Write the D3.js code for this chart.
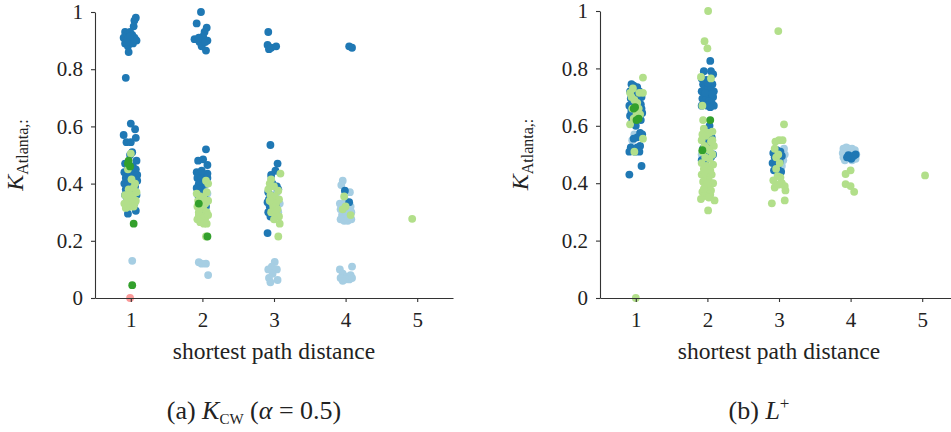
<!DOCTYPE html>
<html><head><meta charset="utf-8">
<script src="https://cdn.jsdelivr.net/npm/d3@7"></script>
<style>
body{margin:0;background:#fff;}
</style></head>
<body><svg id="c" width="951" height="432"></svg>
<script>
// ---- data ----
const distances = [1, 2, 3, 4, 5];
const yTicks = [0, 0.2, 0.4, 0.6, 0.8, 1];
const yTickLabels = ["0", "0.2", "0.4", "0.6", "0.8", "1"];
const xLabel = "shortest path distance";

// Panel (a) K_cw: [jittered distance, value]
const kcwLightBlue = [[1.02,0.13],[1.07,0.365],[0.99,0.42],
 [1.95,0.125],[1.99,0.12],[2.05,0.12],[2.08,0.08],[2.05,0.345],[2.07,0.365],[2.02,0.38],
 [2.96,0.42],[3.04,0.37],[3.08,0.33],[3.06,0.30],[2.93,0.345],[3.01,0.126],[2.97,0.11],[2.92,0.10],[3.04,0.10],[2.93,0.07],[2.95,0.055],[3.05,0.063],[2.98,0.085],
 [3.96,0.41],[3.94,0.395],[4.06,0.37],[3.92,0.33],[3.97,0.32],[4.02,0.33],[4.07,0.32],[3.93,0.31],[3.99,0.30],[4.04,0.305],[4.08,0.30],[3.95,0.29],[4.01,0.285],[4.06,0.285],[3.93,0.275],[3.98,0.27],[4.03,0.27],[4.08,0.275],[4.00,0.34],
 [3.92,0.10],[4.09,0.11],[3.96,0.085],[4.02,0.075],[4.07,0.08],[3.93,0.07],[3.99,0.065],[4.05,0.065],[4.09,0.07],[3.96,0.06]];
const kcwDarkBlue = [[1.07,0.98],[1.05,0.97],[1.04,0.95],[0.92,0.93],[0.95,0.92],[0.99,0.93],[1.02,0.92],[0.90,0.91],[0.93,0.90],[0.97,0.91],[1.00,0.90],[1.05,0.91],[1.08,0.90],[0.92,0.89],[0.96,0.88],[1.03,0.89],[1.06,0.905],[0.97,0.86],[0.99,0.915],[0.94,0.895],[0.93,0.77],
 [1.00,0.61],[1.06,0.59],[0.90,0.57],[1.07,0.56],[0.94,0.545],[1.00,0.545],[1.02,0.51],[0.99,0.50],[1.08,0.48],[0.92,0.47],[0.96,0.46],[1.03,0.46],[1.07,0.45],[0.91,0.44],[0.95,0.44],[1.00,0.435],[1.05,0.43],[1.09,0.43],[0.93,0.42],[0.98,0.42],[1.04,0.41],[0.91,0.40],[0.96,0.40],[1.01,0.395],[1.06,0.39],[0.93,0.38],[0.99,0.375],[1.04,0.37],[0.92,0.36],[0.97,0.355],[1.02,0.35],[1.08,0.36],[0.95,0.34],[1.05,0.33],[1.09,0.41],[0.94,0.37],[1.07,0.305],[0.96,0.295],[0.99,0.44],[1.02,0.42],
 [1.98,1.0],[1.92,0.96],[2.06,0.945],[2.03,0.93],[2.01,0.915],[1.89,0.905],[2.07,0.90],[1.96,0.895],[1.99,0.88],[2.05,0.865],[1.95,0.91],[2.04,0.895],
 [2.05,0.52],[1.94,0.48],[2.01,0.485],[2.07,0.465],[1.92,0.44],[1.96,0.435],[2.00,0.43],[2.04,0.43],[1.93,0.42],[1.98,0.415],[2.03,0.41],[2.07,0.42],[1.95,0.40],[2.00,0.395],[2.06,0.40],[1.92,0.385],[1.97,0.38],[2.02,0.37],[1.94,0.36],[2.03,0.35],[1.99,0.34],[2.05,0.32],[1.96,0.325],[2.03,0.29],[2.07,0.435],[1.99,0.445],
 [2.92,0.93],[2.91,0.885],[2.93,0.87],[2.96,0.875],[3.03,0.88],
 [2.95,0.535],[3.05,0.47],[3.02,0.445],[2.96,0.43],[2.98,0.40],[3.04,0.39],[2.92,0.37],[2.95,0.36],[3.00,0.35],[2.91,0.335],[3.03,0.33],[2.94,0.32],[2.98,0.31],[2.92,0.30],[3.02,0.295],[2.95,0.285],[2.91,0.227],[3.06,0.38],[2.93,0.345],
 [4.05,0.88],[4.09,0.875],[3.99,0.375],[4.05,0.335]];
const kcwLightGreen = [[1.06,0.40],[1.01,0.415],[0.97,0.38],[1.08,0.37],[0.92,0.36],[0.95,0.35],[0.99,0.345],[1.03,0.34],[1.07,0.34],[0.91,0.33],[0.94,0.325],[0.98,0.33],[1.02,0.335],[1.05,0.33],[0.93,0.315],[0.97,0.32],[1.00,0.32],[1.04,0.32],[0.96,0.34],[1.01,0.35],[1.03,0.36],[0.98,0.36],[1.04,0.385],[1.00,0.505],[0.96,0.45],
 [2.08,0.40],[2.05,0.41],[1.92,0.365],[2.06,0.37],[1.97,0.355],[2.02,0.35],[1.94,0.34],[1.99,0.335],[2.04,0.33],[2.08,0.34],[1.93,0.32],[1.97,0.31],[2.01,0.315],[2.06,0.30],[1.95,0.29],[1.99,0.285],[2.04,0.28],[2.08,0.29],[1.93,0.275],[1.97,0.265],[2.02,0.26],[2.06,0.26],[2.05,0.215],[1.95,0.30],
 [3.09,0.435],[2.96,0.415],[2.94,0.40],[2.92,0.38],[3.00,0.39],[3.06,0.375],[2.95,0.36],[3.01,0.355],[3.07,0.345],[2.97,0.335],[3.03,0.33],[2.99,0.32],[3.05,0.31],[2.96,0.30],[3.02,0.295],[3.07,0.285],[3.00,0.275],[3.08,0.26],[3.06,0.215],[2.94,0.34],
 [3.98,0.355],[3.96,0.31],[4.07,0.29],[4.00,0.32],
 [4.93,0.277]];
const kcwDarkGreen = [[0.97,0.48],[0.99,0.46],[0.96,0.47],[1.04,0.26],[1.02,0.045],[2.07,0.215],[1.95,0.33]];
const kcwPink = [[0.99,0.0]];

// Panel (b) L+: [jittered distance, value]
const lpLightBlue = [[0.95,0.55],[0.98,0.57],[1.04,0.65],[0.93,0.66],
 [1.92,0.50],[2.02,0.70],[1.98,0.72],
 [3.08,0.50],[3.06,0.48],[3.07,0.52],[3.04,0.46],
 [3.90,0.52],[3.94,0.525],[3.98,0.52],[4.02,0.52],[4.06,0.515],[3.89,0.505],[3.93,0.50],[4.08,0.50],[4.04,0.505],[3.90,0.49],[3.96,0.49],[4.07,0.485],[3.92,0.48],[4.02,0.48],[3.97,0.505]];
const lpDarkBlue = [[0.94,0.745],[0.97,0.74],[1.02,0.735],[1.05,0.72],[0.92,0.72],[0.99,0.71],[1.08,0.70],[0.93,0.695],[1.03,0.69],[0.96,0.68],[1.07,0.675],[0.91,0.67],[1.00,0.67],[1.05,0.655],[0.94,0.65],[1.09,0.645],[0.92,0.635],[0.98,0.64],[1.03,0.63],[1.07,0.62],[0.95,0.615],[1.00,0.60],[1.06,0.575],[1.09,0.57],[1.02,0.56],[0.97,0.555],[1.06,0.53],[0.93,0.525],[1.02,0.525],[0.99,0.51],[0.91,0.51],[1.05,0.51],[1.08,0.46],[0.91,0.43],[1.04,0.70],[0.98,0.725],[1.08,0.66],
 [2.04,0.826],[1.95,0.79],[2.05,0.79],[2.08,0.78],[1.92,0.765],[1.99,0.76],[2.03,0.755],[2.07,0.745],[1.94,0.745],[1.97,0.735],[2.01,0.73],[2.05,0.725],[2.09,0.72],[1.92,0.72],[1.96,0.71],[2.00,0.705],[2.04,0.70],[2.08,0.70],[1.93,0.695],[1.98,0.69],[2.02,0.685],[2.06,0.68],[1.95,0.675],[2.00,0.67],[2.09,0.67],[1.92,0.67],[2.04,0.665],[1.97,0.715],[2.07,0.71],[2.01,0.75],[2.03,0.60],[2.06,0.56],[1.98,0.55],[2.02,0.53],[2.08,0.50],[1.95,0.51],[2.00,0.50],[1.92,0.48],[1.97,0.475],[2.01,0.44],[1.94,0.52],[2.05,0.49],
 [2.92,0.505],[2.97,0.515],[3.02,0.51],[3.04,0.495],[2.94,0.49],[2.99,0.485],[2.91,0.47],[2.96,0.465],[3.01,0.475],[2.93,0.445],[3.03,0.44],[2.98,0.455],
 [3.97,0.498],[4.07,0.50],[4.01,0.485],[3.95,0.49],[4.04,0.495]];
const lpLightGreen = [[1.10,0.768],[0.96,0.73],[0.92,0.715],[1.05,0.715],[1.10,0.715],[0.98,0.69],[0.94,0.70],[1.02,0.68],[0.95,0.66],[1.06,0.64],[1.01,0.64],[0.92,0.605],[1.10,0.555],[0.98,0.51],[1.00,0.0],[1.04,0.66],[0.97,0.625],
 [2.01,1.0],[1.96,0.895],[2.00,0.87],[1.91,0.77],[2.05,0.765],[1.93,0.67],[1.94,0.62],[1.95,0.59],[2.07,0.58],[2.02,0.575],[1.98,0.565],[1.92,0.55],[2.05,0.545],[2.09,0.53],[1.96,0.53],[2.00,0.52],[1.93,0.51],[2.07,0.50],[1.97,0.49],[2.03,0.485],[1.92,0.47],[2.08,0.465],[1.99,0.46],[1.95,0.45],[2.04,0.445],[1.92,0.43],[2.06,0.43],[1.98,0.42],[2.02,0.41],[1.94,0.405],[2.08,0.40],[1.97,0.39],[2.01,0.385],[2.05,0.375],[1.93,0.37],[1.99,0.365],[2.04,0.36],[1.96,0.355],[2.02,0.35],[1.91,0.345],[2.10,0.34],[2.01,0.305],[1.96,0.44],[2.00,0.40],[1.95,0.38],[2.07,0.55],[1.93,0.57],[2.03,0.515],
 [2.99,0.93],[3.07,0.605],[2.95,0.545],[3.00,0.55],[3.05,0.55],[2.94,0.52],[2.96,0.49],[2.99,0.50],[2.96,0.45],[2.98,0.425],[3.02,0.42],[2.92,0.41],[3.04,0.40],[3.08,0.39],[3.09,0.375],[2.94,0.385],[2.99,0.395],[2.90,0.33],[3.08,0.34],[3.01,0.47],
 [4.00,0.445],[3.93,0.432],[3.93,0.397],[4.00,0.39],[4.05,0.37],
 [5.04,0.427]];
const lpDarkGreen = [[0.97,0.66],[0.99,0.665],[1.04,0.625],[1.01,0.62],[2.04,0.62],[1.93,0.515]];
const lpPink = [];

const colors = {lightBlue:"#a6cee3", darkBlue:"#1f78b4", lightGreen:"#b2df8a", darkGreen:"#33a02c", pink:"#fb9a99"};
const SERIF = "'Liberation Serif', 'Times New Roman', serif";

const panels = [
 {series:[[kcwLightBlue,"lightBlue"],[kcwDarkBlue,"darkBlue"],[kcwLightGreen,"lightGreen"],[kcwDarkGreen,"darkGreen"],[kcwPink,"pink"]],
  x0:95, x1:453, y0:298, y1:12, caption:"a"},
 {series:[[lpLightBlue,"lightBlue"],[lpDarkBlue,"darkBlue"],[lpLightGreen,"lightGreen"],[lpDarkGreen,"darkGreen"],[lpPink,"pink"]],
  x0:600, x1:958, y0:298, y1:11, caption:"b"}
];

const svg = d3.select("#c");
panels.forEach(p => {
  const x = d3.scaleLinear().domain([0.5, 5.5]).range([p.x0, p.x1]);
  const y = d3.scaleLinear().domain([0, 1]).range([p.y0, p.y1]);
  const g = svg.append("g");
  p.series.forEach(([arr, key]) => {
    g.append("g").selectAll("circle").data(arr).join("circle")
      .attr("cx", d => x(d[0])).attr("cy", d => y(d[1])).attr("r", 3.9)
      .attr("fill", colors[key]);
  });
  const ya = g.append("g").attr("transform", `translate(${p.x0},0)`)
    .call(d3.axisLeft(y).tickValues(yTicks).tickFormat((d,i)=>yTickLabels[i]).tickSize(4).tickSizeOuter(0).tickPadding(8));
  const xa = g.append("g").attr("transform", `translate(0,${p.y0})`)
    .call(d3.axisBottom(x).tickValues(distances).tickFormat(d3.format("d")).tickSize(4).tickSizeOuter(0).tickPadding(10));
  [ya, xa].forEach(a => {
    a.attr("font-family", null);
    a.selectAll("path,line").attr("stroke", "#333").attr("stroke-width", 1.1);
    a.selectAll("text").style("font-family", SERIF).style("font-size", "21px").attr("fill", "#222");
  });
  // y label
  const yl = g.append("text").attr("transform", `translate(${p.x0-72},${(p.y0+p.y1)/2}) rotate(-90)`)
    .attr("text-anchor", "middle").style("font-family", SERIF).style("font-size", "24px").attr("fill", "#222");
  yl.append("tspan").text("K").style("font-style", "italic");
  yl.append("tspan").text("Atlanta,:").style("font-size", "16px").attr("dy", 5);
  // x label
  const cx = (x(1) + x(5)) / 2;
  g.append("text").attr("x", cx).attr("y", 359).attr("text-anchor", "middle")
    .style("font-family", SERIF).style("font-size", "23.5px").attr("fill", "#222").text(xLabel);
  // caption
  const cap = g.append("text").attr("x", cx - 20).attr("y", 419).attr("text-anchor", "middle")
    .style("font-family", SERIF).style("font-size", "26px").attr("fill", "#222");
  if (p.caption === "a") {
    cap.append("tspan").text("(a)  ");
    cap.append("tspan").text("K").style("font-style", "italic");
    cap.append("tspan").text("CW").style("font-size", "15px").attr("dy", 5);
    cap.append("tspan").text(" (").attr("dy", -5);
    cap.append("tspan").text("α").style("font-style", "italic");
    cap.append("tspan").text(" = 0.5)");
  } else {
    cap.append("tspan").text("(b)  ");
    cap.append("tspan").text("L").style("font-style", "italic");
    cap.append("tspan").text("+").style("font-size", "17px").attr("dy", -10);
  }
});
</script></body></html>
